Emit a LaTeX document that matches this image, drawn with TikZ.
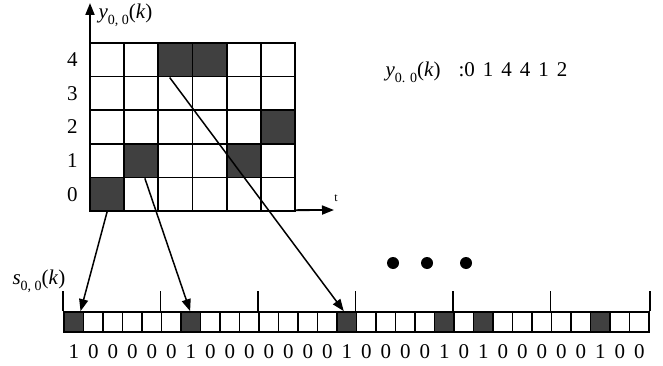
\documentclass[tikz,border=0pt]{standalone}
\usepackage{fontspec}
\setmainfont{Liberation Serif}
\usetikzlibrary{arrows.meta,positioning,calc}

\newcommand{\subsc}[1]{\raisebox{-0.3em}{\fontsize{14}{15}\selectfont #1}}

\begin{document}
\begin{tikzpicture}[x=1pt, y=-1pt, font=\fontsize{21}{23}\selectfont,
  cell/.style={draw, line width=1.8pt, minimum width=34.2pt, minimum height=33.6pt, inner sep=0pt, fill=#1},
  cell/.default={white},
  bit/.style={draw, line width=1.7pt, minimum width=19.5pt, minimum height=20pt, inner sep=0pt, fill=#1},
  bit/.default={white},
  dot/.style={circle, fill, inner sep=0pt, minimum size=12pt},
  >={Triangle[length=12pt, width=9pt]}]
\useasboundingbox (0,0) rectangle (663,366);
% axes
\coordinate (orig) at (90,211);
\coordinate (ytop) at (90,3);
\coordinate (xend) at (334,210);
\draw[->, line width=1.8pt] (orig) -- (ytop);
\draw[->, line width=1.8pt] (orig) -- (xend);
\node[anchor=west] (ylbl) at (95,15) {\textit{y}\subsc{0, 0}(\textit{k})};
\node[font=\fontsize{12}{13}\selectfont] (tlbl) at (336,198) {t};
% grid of y(k)
\foreach \i in {0,...,5}
  \foreach \j in {0,...,4}
    \node[cell] (g\i\j) at ({90+34.17*(\i+0.5)},{211-33.6*(\j+0.5)}) {};
\foreach \i/\j in {0/0,1/1,2/4,3/4,4/1,5/2}
  \node[cell=black!75] (hit\i) at ({90+34.17*(\i+0.5)},{211-33.6*(\j+0.5)}) {};
\foreach \j in {0,...,4}
  \node[left=8pt of g0\j] (lv\j) {\j};
\node[anchor=west] (seq) at (382,72) {\textit{y}\subsc{0. 0}(\textit{k})\hspace{18pt}:0\hspace{0.38em}1\hspace{0.38em}4\hspace{0.38em}4\hspace{0.38em}1\hspace{0.38em}2};
% coded sequence s(k)
\node[anchor=west] (slbl) at (9,281) {\textit{s}\subsc{0, 0}(\textit{k})};
\foreach \n in {0,...,29}
  \node[bit] (s\n) at ({64+19.5*(\n+0.5)},322) {};
\foreach \n in {0,6,14,19,21,27}
  \node[bit=black!75] (s\n) at ({64+19.5*(\n+0.5)},322) {};
\foreach \n in {0,5,...,25}
  \draw[line width=1.5pt] (s\n.north west) -- ++(0,-20);
\draw[line width=1.5pt] (s29.north east) -- ++(0,-20);
\foreach \b [count=\n from 0] in {1,0,0,0,0,0,1,0,0,0,0,0,0,0,1,0,0,0,0,1,0,1,0,0,0,0,0,1,0,0}
  \node[below=8pt of s\n] (b\n) {\b};
% dots
\node[dot] (d1) at (393,263) {};
\node[dot] (d2) at (427,263) {};
\node[dot] (d3) at (466,263) {};
% mapping arrows
\draw[->, line width=1.5pt] (hit0.south) -- ($(s0.north west)!0.82!(s0.north east)$);
\draw[->, line width=1.5pt] ($(hit1.south west)!0.6!(hit1.south east)$) -- ($(s6.north west)!0.47!(s6.north east)$);
\draw[->, line width=1.5pt] ($(hit2.south west)!0.34!(hit2.south east)$) -- ($(s14.north west)!0.36!(s14.north east)$);
\end{tikzpicture}
\end{document}
